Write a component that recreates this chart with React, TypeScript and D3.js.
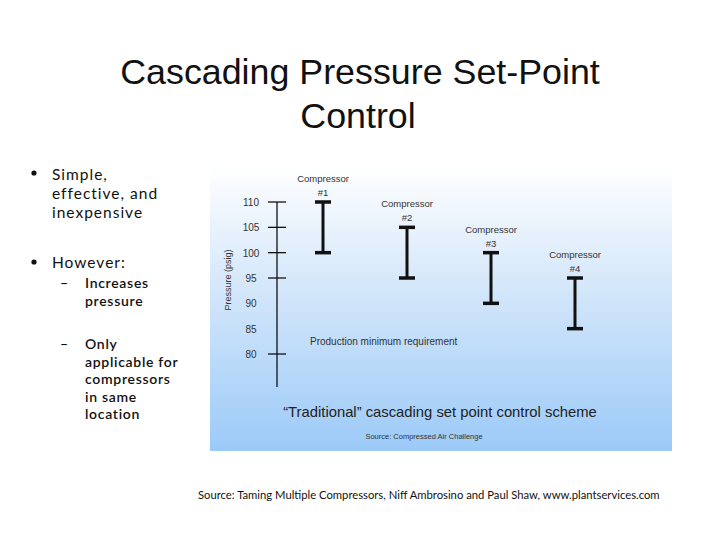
import React from "react";
import * as d3 from "d3";

const compressors = ["#1", "#2", "#3", "#4"];
const lowSet = [100, 95, 90, 85];
const highSet = [110, 105, 100, 95];
const tickLabels = [110, 105, 100, 95, 90, 85, 80];
const tickMarks = [110, 105, 100, 95, 80];

const W = 720;
const H = 540;

export default function App() {
  const y = d3.scaleLinear().domain([80, 110]).range([354, 202]);
  const x = d3.scalePoint<string>().domain(compressors).range([323, 575]);
  const axisX = 277;
  const sans = "'Liberation Sans', Arial, sans-serif";
  const body = "Lato, 'Open Sans', sans-serif";

  return (
    <svg width={W} height={H} style={{ position: "absolute", left: 0, top: 0, background: "#fff" }}>
      <defs>
        <linearGradient id="bg" x1="0" y1="0" x2="0" y2="1">
          <stop offset="0" stopColor="#ffffff" />
          <stop offset="0.35" stopColor="#dcebfb" />
          <stop offset="1" stopColor="#9ccaf8" />
        </linearGradient>
      </defs>
      <rect width={W} height={H} fill="#fff" />
      {/* Slide title */}
      <text x={360} y={84} textAnchor="middle" fontFamily={sans} fontSize={35.8} fill="#111">
        Cascading Pressure Set-Point
      </text>
      <text x={358} y={128} textAnchor="middle" fontFamily={sans} fontSize={35.8} fill="#111">
        Control
      </text>

      {/* Bullets */}
      <g fontFamily={body} fill="#111">
        <circle cx={34} cy={173} r={2.6} />
        <g fontSize={15.5} letterSpacing={1}>
          <text x={52} y={180}>Simple,</text>
          <text x={52} y={199}>effective, and</text>
          <text x={52} y={218}>inexpensive</text>
          <text x={52} y={268}>However:</text>
        </g>
        <circle cx={34} cy={262} r={2.6} />
        <g fontSize={14} fontWeight={600} letterSpacing={0.7}>
          <text x={60} y={288}>–</text>
          <text x={85} y={288}>Increases</text>
          <text x={85} y={306}>pressure</text>
          <text x={60} y={349}>–</text>
          <text x={85} y={349}>Only</text>
          <text x={85} y={366.5}>applicable for</text>
          <text x={85} y={384}>compressors</text>
          <text x={85} y={401.5}>in same</text>
          <text x={85} y={419}>location</text>
        </g>
      </g>

      {/* Chart image */}
      <rect x={210} y={165} width={462} height={286} fill="url(#bg)" />
      <g fontFamily={sans} fill="#333">
        <text
          transform={`translate(231,${280}) rotate(-90)`}
          textAnchor="middle"
          fontSize={9}
        >
          Pressure (psig)
        </text>
        <line x1={axisX} x2={axisX} y1={y(110)} y2={y(80) + 33} stroke="#111" strokeWidth={1.3} />
        {tickMarks.map((t) => (
          <line key={t} x1={axisX - 9} x2={axisX + 9} y1={y(t)} y2={y(t)} stroke="#111" strokeWidth={1.3} />
        ))}
        {tickLabels.map((t) => (
          <text key={t} x={251} y={y(t) + 4} textAnchor="middle" fontSize={10}>
            {t}
          </text>
        ))}
        {compressors.map((c, i) => {
          const cx = x(c)!;
          const top = y(highSet[i]);
          const bot = y(lowSet[i]);
          return (
            <g key={c}>
              <line x1={cx} x2={cx} y1={top} y2={bot} stroke="#111" strokeWidth={3} />
              <line x1={cx - 8} x2={cx + 8} y1={top} y2={top} stroke="#111" strokeWidth={3.5} />
              <line x1={cx - 8} x2={cx + 8} y1={bot} y2={bot} stroke="#111" strokeWidth={3.5} />
              <text x={cx} y={top - 20} textAnchor="middle" fontSize={9.5}>
                Compressor
              </text>
              <text x={cx} y={top - 6} textAnchor="middle" fontSize={9.5}>
                {c}
              </text>
            </g>
          );
        })}
        <text x={310} y={345} fontSize={10}>Production minimum requirement</text>
        <text x={440} y={417} textAnchor="middle" fontSize={14.8} fill="#222">
          “Traditional” cascading set point control scheme
        </text>
        <text x={424} y={439} textAnchor="middle" fontSize={7.5}>
          Source: Compressed Air Challenge
        </text>
      </g>

      <text x={198} y={499} fontFamily={body} fontSize={11.25} fill="#111">
        Source: Taming Multiple Compressors, Niff Ambrosino and Paul Shaw, www.plantservices.com
      </text>
    </svg>
  );
}
